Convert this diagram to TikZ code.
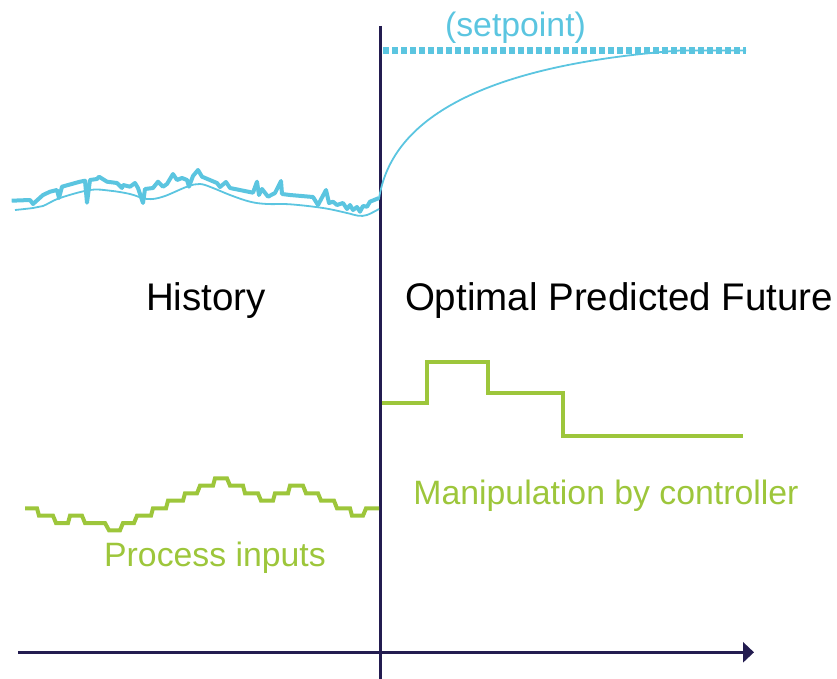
\documentclass[tikz,border=0pt]{standalone}
\usepackage{fontspec}
\setmainfont{Liberation Sans}
\usetikzlibrary{arrows.meta}

\definecolor{pvblue}{RGB}{91,197,224}
\definecolor{mvgreen}{RGB}{157,198,59}
\definecolor{axisnavy}{RGB}{35,28,80}

\tikzset{
  axisline/.style={draw=axisnavy, line width=3pt},
  noisy/.style={draw=pvblue, line width=4pt, line join=round},
  thinpv/.style={draw=pvblue, line width=1.8pt},
  setpt/.style={draw=pvblue, line width=7pt, dash pattern=on 6.3pt off 2.7pt},
  stepline/.style={draw=mvgreen, line width=4pt, line join=miter},
  biglabel/.style={font=\fontsize{38.5}{46}\selectfont, text=black, inner sep=0pt, anchor=base},
  greenlabel/.style={font=\fontsize{33.8}{40}\selectfont, text=mvgreen, inner sep=0pt, anchor=base},
  bluelabel/.style={font=\fontsize{33.8}{40}\selectfont, text=pvblue, inner sep=0pt, anchor=base},
}

\begin{document}
\begin{tikzpicture}[x=1pt, y=-1pt]
\useasboundingbox (0,0) rectangle (837,679);

% ---- axes ----
\coordinate (tTop) at (380.3,26);
\coordinate (tBot) at (380.3,679);
\coordinate (xStart) at (18,652.3);
\coordinate (xEnd) at (754,652.3);
\draw[axisline] (tTop) -- (tBot);
\draw[axisline, -{Triangle[length=11pt,width=20pt]}] (xStart) -- (xEnd);

% ---- setpoint ----
\coordinate (spStart) at (383,50.5);
\coordinate (spEnd) at (746,50.5);
\draw[setpt] (spStart) -- (spEnd);
\node[bluelabel] (setpointlbl) at (515.5,37) {(setpoint)};

% ---- measured process value (history) ----
\draw[noisy] plot coordinates {
 (11.7,200.7) (30,200) (33,204) (43,195) (50,191.7) (57,190) (59,198) (62,186.7)
 (80,181.7) (85,180.7) (87,202.7) (90,180) (97,179) (99,176.7) (107,181.7) (117,183)
 (122,188) (123,185) (130,186.7) (135,183) (138,188) (143,203) (145,189) (153,188)
 (158,181.7) (163,186.7) (167,184) (173,174) (177,180) (182,178) (187,180) (189,186.7)
 (193,176) (198,170) (202,176.7) (217,183) (220,187) (226,182) (230,188) (253,192.7)
 (257,181.7) (259,195) (262,189) (268,196.7) (275,193) (281,181) (282,194) (290,195)
 (313,197) (318,205) (326,190) (329,203) (333,201.7) (337,205) (343,203) (347,209)
 (350,205) (353,210) (357,207) (360,211.7) (363,206) (367,206.7) (370,201.7) (379,198)
};
% smoothed model estimate
\draw[thinpv] plot[smooth, tension=0.6] coordinates {
 (15,210) (33,208) (43,206) (60,198) (90,190) (110,190.7) (130,194) (147,199)
 (163,196.7) (187,186.7) (200,184) (213,188) (230,195) (250,201.7) (267,204)
 (290,204.3) (323,208) (347,213) (358,215.7) (367,215) (379,209)
};

% ---- predicted process value (future) ----
\coordinate (predStart) at (379,199);
\coordinate (predJoin) at (680,50.5);
\draw[thinpv] (predStart) .. controls (390,125) and (470,66) .. (predJoin) -- (spEnd);

% ---- process inputs (history) ----
\draw[stepline] plot coordinates {
 (25,508.3) (37,508.3) (39,515.7) (53,515.7) (56,523) (68,523) (70,515.7) (82,515.7)
 (85,523) (105,523) (109,530.3) (120,530.3) (123,523) (134,523) (137,515.7) (151,515.7)
 (153,508.3) (166,508.3) (168,500.7) (183,500.7) (185,493.3) (197,493.3) (200,485.7)
 (213,485.7) (215,478.3) (227,478.3) (230,485.7) (243,485.7) (245,493.3) (258,493.3)
 (261,500.7) (273,500.7) (275,493.3) (288,493.3) (290,485.7) (303,485.7) (306,493.3)
 (318,493.3) (321,500.7) (334,500.7) (337,508.3) (350,508.3) (352,515.7) (363,515.7)
 (366,508.3) (379,508.3)
};

% ---- controller moves (future) ----
\coordinate (mvStart) at (381.7,403.3);
\coordinate (mvEnd) at (743.3,435.5);
\draw[stepline] (mvStart) -- (427,403.3) -- (427,361.7) -- (488,361.7) -- (488,392.7)
  -- (563,392.7) -- (563,435.5) -- (mvEnd);

% ---- labels ----
\node[biglabel] (histlbl) at (206,310.7) {History};
\node[biglabel] (futlbl) at (619,310.7) {Optimal Predicted Future};
\node[greenlabel] (mvlbl) at (606,504) {Manipulation by controller};
\node[greenlabel] (inlbl) at (215,566.7) {Process inputs};
\end{tikzpicture}
\end{document}
